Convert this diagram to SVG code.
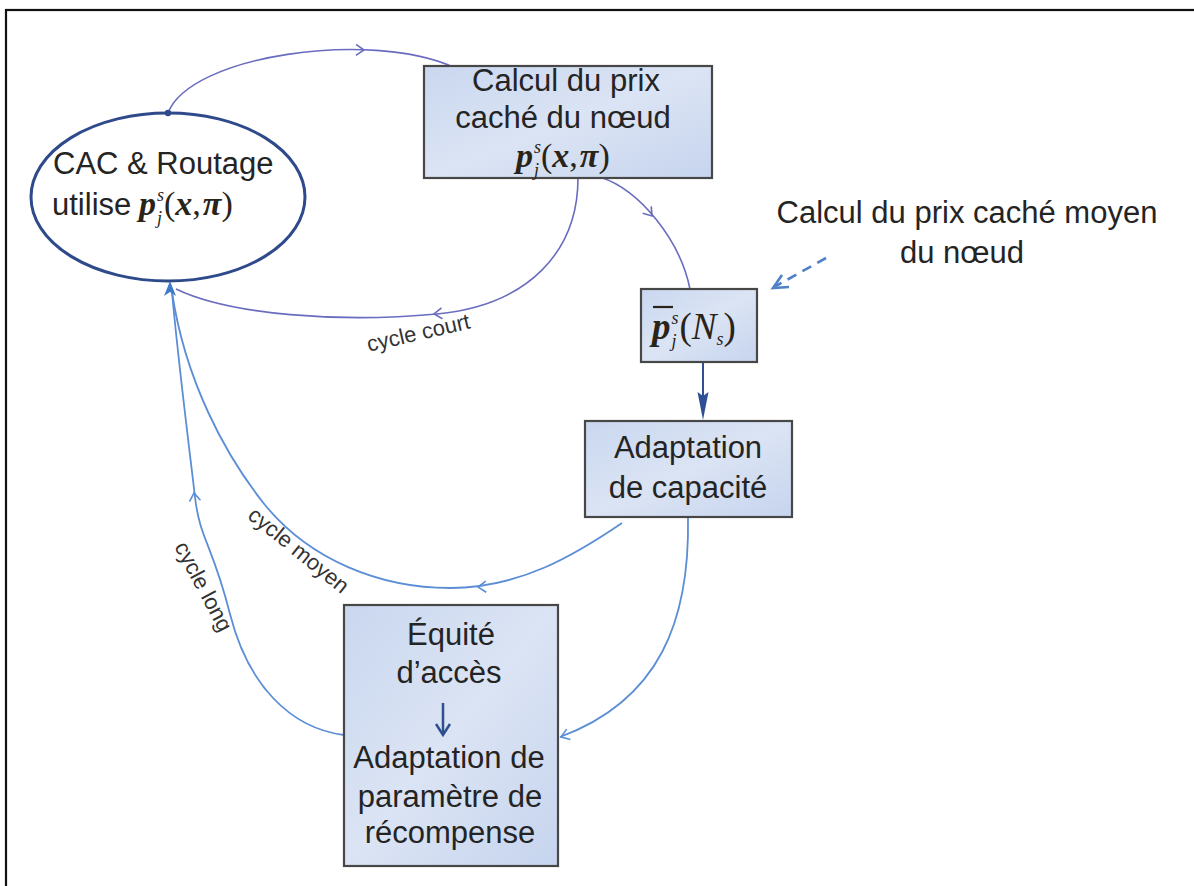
<svg xmlns="http://www.w3.org/2000/svg" width="1194" height="886" viewBox="0 0 1194 886">
<defs>
<linearGradient id="boxfill" x1="0" y1="0" x2="1" y2="1">
<stop offset="0" stop-color="#c9d7ef"/>
<stop offset="0.5" stop-color="#dbe4f4"/>
<stop offset="1" stop-color="#c6d4ee"/>
</linearGradient>
<path id="chev" d="M-8,-5.5 L0,0 L-8,5.5" fill="none" stroke-width="1.6"/>
</defs>
<style>
.box{fill:url(#boxfill);stroke:#474747;stroke-width:2.2}
.t{font-family:"Liberation Sans",Arial,sans-serif;font-size:31px;fill:#242424}
.lbl{font-family:"Liberation Sans",Arial,sans-serif;font-size:22px;fill:#333}
.m{font-family:"Liberation Serif","Times New Roman",serif;font-size:34px;fill:#2a2418}
.bi{font-weight:bold;font-style:italic}
.it{font-style:italic}
.sm{font-size:18px}
.c1{fill:none;stroke:#6a6cc0;stroke-width:1.6}
.c2{fill:none;stroke:#5b8ed6;stroke-width:1.8}
</style>
<rect width="1194" height="886" fill="#ffffff"/>
<rect x="6" y="10" width="1200" height="900" fill="none" stroke="#111" stroke-width="2.2"/>

<g id="connectors">
<path class="c1" d="M168,113 C 190,55 370,30 453,67"/>
<use href="#chev" stroke="#6a6cc0" transform="translate(364,50) rotate(1)"/>
<circle cx="168" cy="113" r="3.2" fill="#2e4a8a"/>
<path class="c1" d="M578,178 C 578,250 530,305 437,314 C 340,323 230,315 176,289"/>
<use href="#chev" stroke="#6a6cc0" transform="translate(434,314) rotate(175)"/>
<path class="c1" d="M600,177 C 640,190 680,240 690,289"/>
<use href="#chev" stroke="#6a6cc0" transform="translate(652,216) rotate(51)"/>
<path d="M826,258 L776,286" fill="none" stroke="#4f81c7" stroke-width="2.6" stroke-dasharray="10,7"/>
<path d="M782,275 L773,288 L789,287" fill="none" stroke="#4f81c7" stroke-width="2.6"/>
<line x1="703" y1="362" x2="703" y2="400" stroke="#2f4f94" stroke-width="2"/>
<path d="M703,420 L697.5,392 L703,396 L708.5,392 Z" fill="#2f4f94"/>
<path class="c2" d="M622,523 C 575,555 520,588 450,588 C 380,588 310,560 265,505 C 225,455 185,380 172,292"/>
<use href="#chev" stroke="#5b8ed6" transform="translate(478,587) rotate(178)"/>
<path class="c2" d="M344,735 C 290,728 248,685 230,614 S 200,540 195,497 S 178,360 172,292"/>
<use href="#chev" stroke="#5b8ed6" transform="translate(194,493) rotate(-97)"/>
<path class="c2" d="M688,517 C 690,620 660,700 560,737"/>
<use href="#chev" stroke="#5b8ed6" transform="translate(561,737) rotate(160)"/>
<path d="M170,281 L164,296 L170,292 L176,296 Z" fill="#3f78cc"/>
<text class="lbl" x="420" y="340" text-anchor="middle" transform="rotate(-13 420 340)">cycle court</text>
<text class="lbl" x="294" y="556" text-anchor="middle" transform="rotate(39 294 556)">cycle moyen</text>
<text class="lbl" x="197" y="590" text-anchor="middle" transform="rotate(62 197 590)">cycle long</text>
</g>

<g id="node-cac">
<ellipse cx="168" cy="197" rx="137" ry="84" fill="none" stroke="#2e4a8a" stroke-width="3"/>
<text class="t" x="53" y="174">CAC &amp; Routage</text>
<text class="t" x="52" y="215">utilise</text>
<text class="m" x="139" y="215"><tspan class="bi">p</tspan><tspan class="sm it" dx="1" dy="-14">s</tspan><tspan class="sm it" dx="-7" dy="23">j</tspan><tspan dx="2" dy="-9">(</tspan><tspan class="bi">x</tspan><tspan>,</tspan><tspan class="bi" dx="2">π</tspan><tspan>)</tspan></text>
</g>

<g id="node-calcul">
<rect class="box" x="424" y="66" width="288" height="112"/>
<text class="t" x="566" y="91" text-anchor="middle">Calcul du prix</text>
<text class="t" x="563" y="128" text-anchor="middle">caché du nœud</text>
<text class="m" x="516" y="167"><tspan class="bi">p</tspan><tspan class="sm it" dx="1" dy="-14">s</tspan><tspan class="sm it" dx="-7" dy="23">j</tspan><tspan dx="2" dy="-9">(</tspan><tspan class="bi">x</tspan><tspan>,</tspan><tspan class="bi" dx="2">π</tspan><tspan>)</tspan></text>
</g>

<g id="node-moyen">
<rect class="box" x="641" y="289" width="116" height="73"/>
<line x1="653" y1="307" x2="673" y2="307" stroke="#2a2418" stroke-width="2.2"/>
<text class="m" x="652" y="339" style="font-size:37px"><tspan class="bi">p</tspan><tspan class="sm it" dx="1" dy="-15">s</tspan><tspan class="sm it" dx="-7" dy="23">j</tspan><tspan dx="3" dy="-8">(</tspan><tspan class="it">N</tspan><tspan class="sm it" dy="6">s</tspan><tspan dy="-6">)</tspan></text>
</g>

<g id="note-moyen">
<text class="t" x="967" y="223" text-anchor="middle">Calcul du prix caché moyen</text>
<text class="t" x="962" y="263" text-anchor="middle">du nœud</text>
</g>

<g id="node-capacite">
<rect class="box" x="585" y="421" width="207" height="96"/>
<text class="t" x="688" y="458" text-anchor="middle">Adaptation</text>
<text class="t" x="688" y="498" text-anchor="middle">de capacité</text>
</g>

<g id="node-equite">
<rect class="box" x="344" y="605" width="214" height="261"/>
<text class="t" x="451" y="645" text-anchor="middle">Équité</text>
<text class="t" x="449" y="683" text-anchor="middle">d’accès</text>
<line x1="443" y1="703" x2="443" y2="733" stroke="#2f4f8f" stroke-width="2.5"/>
<path d="M436,724 L443,735 L450,724" fill="none" stroke="#2f4f8f" stroke-width="2.5"/>
<text class="t" x="449" y="768" text-anchor="middle">Adaptation de</text>
<text class="t" x="450" y="807" text-anchor="middle">paramètre de</text>
<text class="t" x="450" y="843" text-anchor="middle">récompense</text>
</g>
</svg>
